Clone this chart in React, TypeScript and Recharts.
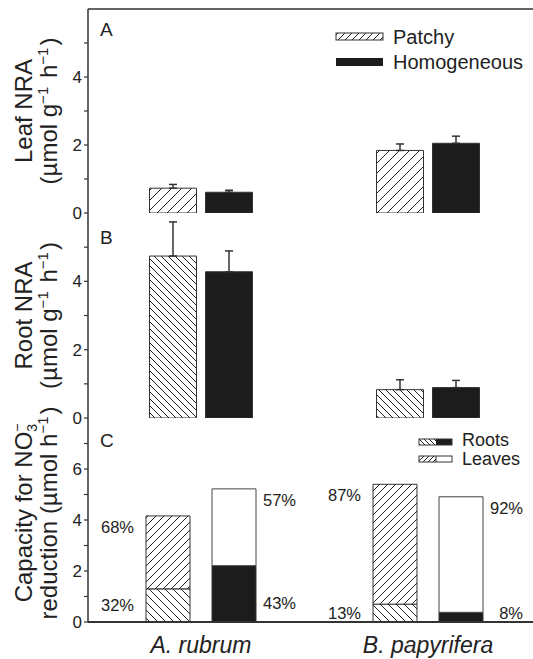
import React from 'react'
import { BarChart, Bar, XAxis, YAxis, ErrorBar, ReferenceLine, LabelList } from 'recharts'

const species = ['A. rubrum', 'B. papyrifera']

// A – leaf NRA (µmol g-1 h-1), error = upper SE
const leafPatchy = [0.73, 1.84]
const leafPatchyErr = [0.11, 0.19]
const leafHomog = [0.61, 2.05]
const leafHomogErr = [0.06, 0.21]

// B – root NRA
const rootPatchy = [4.74, 0.83]
const rootPatchyErr = [1.0, 0.29]
const rootHomog = [4.28, 0.89]
const rootHomogErr = [0.61, 0.21]

// C – whole-plant capacity, roots stacked under leaves
const capPatchyRoot = [1.3, 0.7]
const capPatchyLeaf = [2.86, 4.7]
const capHomogRoot = [2.21, 0.38]
const capHomogLeaf = [3.01, 4.53]
const pctPatchyLeaf = ['68%', '87%']
const pctPatchyRoot = ['32%', '13%']
const pctHomogLeaf = ['57%', '92%']
const pctHomogRoot = ['43%', '8%']

const nraTicks = [0, 1, 2, 3, 4, 5]
const capTicks = [0, 1, 2, 3, 4, 5, 6, 7]

const INK = '#222'
const BLACK = '#1c1c1c'
const FONT = '"Liberation Sans", Arial, Helvetica, sans-serif'

const leafData = species.map((s, i) => ({
  species: s,
  patchy: leafPatchy[i],
  patchyErr: [0, leafPatchyErr[i]],
  homog: leafHomog[i],
  homogErr: [0, leafHomogErr[i]],
}))

const rootData = species.map((s, i) => ({
  species: s,
  patchy: rootPatchy[i],
  patchyErr: [0, rootPatchyErr[i]],
  homog: rootHomog[i],
  homogErr: [0, rootHomogErr[i]],
}))

const capData = species.map((s, i) => ({
  species: s,
  pRoot: capPatchyRoot[i],
  pLeaf: capPatchyLeaf[i],
  hRoot: capHomogRoot[i],
  hLeaf: capHomogLeaf[i],
  pRootPct: pctPatchyRoot[i],
  pLeafPct: pctPatchyLeaf[i],
  hRootPct: pctHomogRoot[i],
  hLeafPct: pctHomogLeaf[i],
}))

/** Diagonal hatch tile. dir '/' rises to the right, '\' falls. */
function Hatch({ id, size, dir }: { id: string; size: number; dir: '/' | '\\' }) {
  const s = size
  const d =
    dir === '/'
      ? `M0,${s} L${s},0 M-1,1 L1,-1 M${s - 1},${s + 1} L${s + 1},${s - 1}`
      : `M0,0 L${s},${s} M-1,${s - 1} L1,${s + 1} M${s - 1},-1 L${s + 1},1`
  return (
    <pattern id={id} patternUnits="userSpaceOnUse" width={s} height={s}>
      <rect width={s} height={s} fill="#fff" />
      <path d={d} stroke={INK} strokeWidth={1} />
    </pattern>
  )
}

const sup = (t: string) => (
  <>
    <tspan fontSize={15} dy={-9}>{t}</tspan>
    <tspan dy={9}>{'\u200a'}</tspan>
  </>
)

const unitsLine = (
  <>
    (µmol g{sup('−1')} h{sup('−1')})
  </>
)

/** Two-line rotated y-axis title, centred on the axis box. */
function axisTitle(line1: React.ReactNode, line2: React.ReactNode, shift = 0) {
  return (props: any) => {
    const vb = props.viewBox || { y: 0, height: 200 }
    const cy = vb.y + vb.height / 2 + shift
    return (
      <g fontSize={24} fill={INK} textAnchor="middle">
        <text x={32} y={cy} transform={`rotate(-90 32 ${cy})`}>{line1}</text>
        <text x={57} y={cy} transform={`rotate(-90 57 ${cy})`}>{line2}</text>
      </g>
    )
  }
}

const evenOnly = (v: number) => (v % 2 === 0 ? String(v) : '')

const yAxisCommon = {
  width: 88,
  allowDataOverflow: true,
  interval: 0 as const,
  tickSize: 4,
  tickMargin: 2,
  tickFormatter: evenOnly,
  tick: { fontSize: 17, fill: INK },
  axisLine: { stroke: '#333', strokeWidth: 1.5 },
  tickLine: { stroke: '#333', strokeWidth: 1.2 },
}

// same band geometry on every panel: 227px bands starting at x=87.5
const xPadding = { left: -0.5, right: -8.5 }

function pctLabel(side: 'left' | 'right', part: 'leaf' | 'root') {
  return (p: any) => {
    const x = Number(p.x)
    const y = Number(p.y)
    const w = Number(p.width)
    const h = Number(p.height)
    const tx = side === 'left' ? x - 12 : x + w + 40
    const ty =
      part === 'leaf' ? y + 11 : Math.min(Math.max(y + h / 2, y + h - 19), y + h - 9)
    return (
      <text x={tx} y={ty} textAnchor="end" dominantBaseline="central" fontSize={16.5} fill={INK}>
        {p.value}
      </text>
    )
  }
}

function NraPanel({
  data,
  hatch,
  title,
  top,
  height,
  marginTop,
  marginBottom,
  topLine,
}: {
  data: typeof leafData
  hatch: string
  title: (p: any) => React.ReactNode
  top: number
  height: number
  marginTop: number
  marginBottom: number
  topLine?: boolean
}) {
  return (
    <div style={{ position: 'absolute', left: 0, top }}>
      <BarChart
        width={533}
        height={height}
        data={data}
        margin={{ top: marginTop, right: 0, bottom: marginBottom, left: 0 }}
        barCategoryGap={62}
        barGap={9}
      >
        <XAxis
          dataKey="species"
          height={0}
          tick={false}
          tickLine={false}
          padding={xPadding}
          axisLine={{ stroke: '#333', strokeWidth: 2 }}
        />
        <YAxis {...yAxisCommon} domain={[0, 6]} ticks={nraTicks} label={title} />
        {topLine && <ReferenceLine y={6} stroke="#333" strokeWidth={1.5} />}
        <Bar dataKey="patchy" fill={`url(#${hatch})`} stroke="#333" strokeWidth={1} isAnimationActive={false}>
          <ErrorBar dataKey="patchyErr" direction="y" width={4} stroke="#333" strokeWidth={1.5} />
        </Bar>
        <Bar dataKey="homog" fill={BLACK} stroke="#333" strokeWidth={1} isAnimationActive={false}>
          <ErrorBar dataKey="homogErr" direction="y" width={4} stroke="#333" strokeWidth={1.5} />
        </Bar>
      </BarChart>
    </div>
  )
}

export default function App() {
  return (
    <div
      style={{
        position: 'absolute',
        left: 0,
        top: 0,
        width: 533,
        height: 659,
        overflow: 'hidden',
        background: '#fff',
        fontFamily: FONT,
      }}
    >
      <NraPanel
        data={leafData}
        hatch="hatchA"
        title={axisTitle('Leaf NRA', unitsLine)}
        top={0}
        height={230}
        marginTop={9}
        marginBottom={17}
        topLine
      />
      <NraPanel
        data={rootData}
        hatch="hatchB"
        title={axisTitle('Root NRA', unitsLine)}
        top={200}
        height={240}
        marginTop={13}
        marginBottom={22}
      />

      <div style={{ position: 'absolute', left: 0, top: 400 }}>
        <BarChart
          width={533}
          height={259}
          data={capData}
          margin={{ top: 18, right: 0, bottom: 0, left: 0 }}
          barCategoryGap={58.5}
          barGap={22}
        >
          <XAxis
            dataKey="species"
            height={37}
            padding={xPadding}
            tickLine={false}
            tickSize={6}
            tickMargin={9}
            tick={{ fontSize: 23, fill: INK, fontStyle: 'italic' }}
            axisLine={{ stroke: '#333', strokeWidth: 2 }}
          />
          <YAxis
            {...yAxisCommon}
            domain={[0, 8]}
            ticks={capTicks}
            label={axisTitle(
              <>
                Capacity for NO
                <tspan fontSize={14} dy={5}>3</tspan>
                <tspan fontSize={14} dx={-8} dy={-15}>−</tspan>
              </>,
              <>
                reduction (µmol h{sup('−1')})
              </>,
              -7,
            )}
          />
          <Bar dataKey="pRoot" stackId="p" fill="url(#hatchCRoot)" stroke="#333" strokeWidth={1} isAnimationActive={false}>
            <LabelList dataKey="pRootPct" content={pctLabel('left', 'root')} />
          </Bar>
          <Bar dataKey="pLeaf" stackId="p" fill="url(#hatchCLeaf)" stroke="#333" strokeWidth={1} isAnimationActive={false}>
            <LabelList dataKey="pLeafPct" content={pctLabel('left', 'leaf')} />
          </Bar>
          <Bar dataKey="hRoot" stackId="h" fill={BLACK} stroke="#333" strokeWidth={1} isAnimationActive={false}>
            <LabelList dataKey="hRootPct" content={pctLabel('right', 'root')} />
          </Bar>
          <Bar dataKey="hLeaf" stackId="h" fill="#fff" stroke="#444" strokeWidth={1} isAnimationActive={false}>
            <LabelList dataKey="hLeafPct" content={pctLabel('right', 'leaf')} />
          </Bar>
        </BarChart>
      </div>

      {/* patterns, panel letters and the two legends */}
      <svg
        width={533}
        height={659}
        style={{ position: 'absolute', left: 0, top: 0, pointerEvents: 'none' }}
      >
        <defs>
          <Hatch id="hatchA" size={10} dir="/" />
          <Hatch id="hatchB" size={7} dir="\\" />
          <Hatch id="hatchCLeaf" size={8} dir="/" />
          <Hatch id="hatchCRoot" size={8} dir="\\" />
          <Hatch id="hatchLegA" size={7} dir="/" />
          <Hatch id="hatchLegL" size={5} dir="/" />
          <Hatch id="hatchLegR" size={5} dir="\\" />
        </defs>
        <g fontSize={19} fill={INK}>
          <text x={100} y={36}>A</text>
          <text x={100} y={244}>B</text>
          <text x={100} y={447}>C</text>
        </g>

        <g fontSize={20} fill={INK} dominantBaseline="central">
          <rect x={336} y={33} width={47} height={7} fill="url(#hatchLegA)" stroke="#333" strokeWidth={1} />
          <text x={393} y={37}>Patchy</text>
          <rect x={336} y={58} width={47} height={8} fill={BLACK} />
          <text x={393} y={62}>Homogeneous</text>
        </g>

        <g fontSize={18} fill={INK} dominantBaseline="central">
          <rect x={419} y={439} width={17} height={6} fill="url(#hatchLegR)" />
          <rect x={436} y={439} width={16} height={6} fill={BLACK} />
          <rect x={419} y={439} width={33} height={6} fill="none" stroke="#333" strokeWidth={1} />
          <text x={462} y={440}>Roots</text>
          <rect x={419} y={456} width={17} height={6} fill="url(#hatchLegL)" />
          <rect x={419} y={456} width={33} height={6} fill="none" stroke="#333" strokeWidth={1} />
          <line x1={436} y1={456} x2={436} y2={462} stroke="#333" strokeWidth={1} />
          <text x={462} y={459}>Leaves</text>
        </g>
      </svg>
    </div>
  )
}
